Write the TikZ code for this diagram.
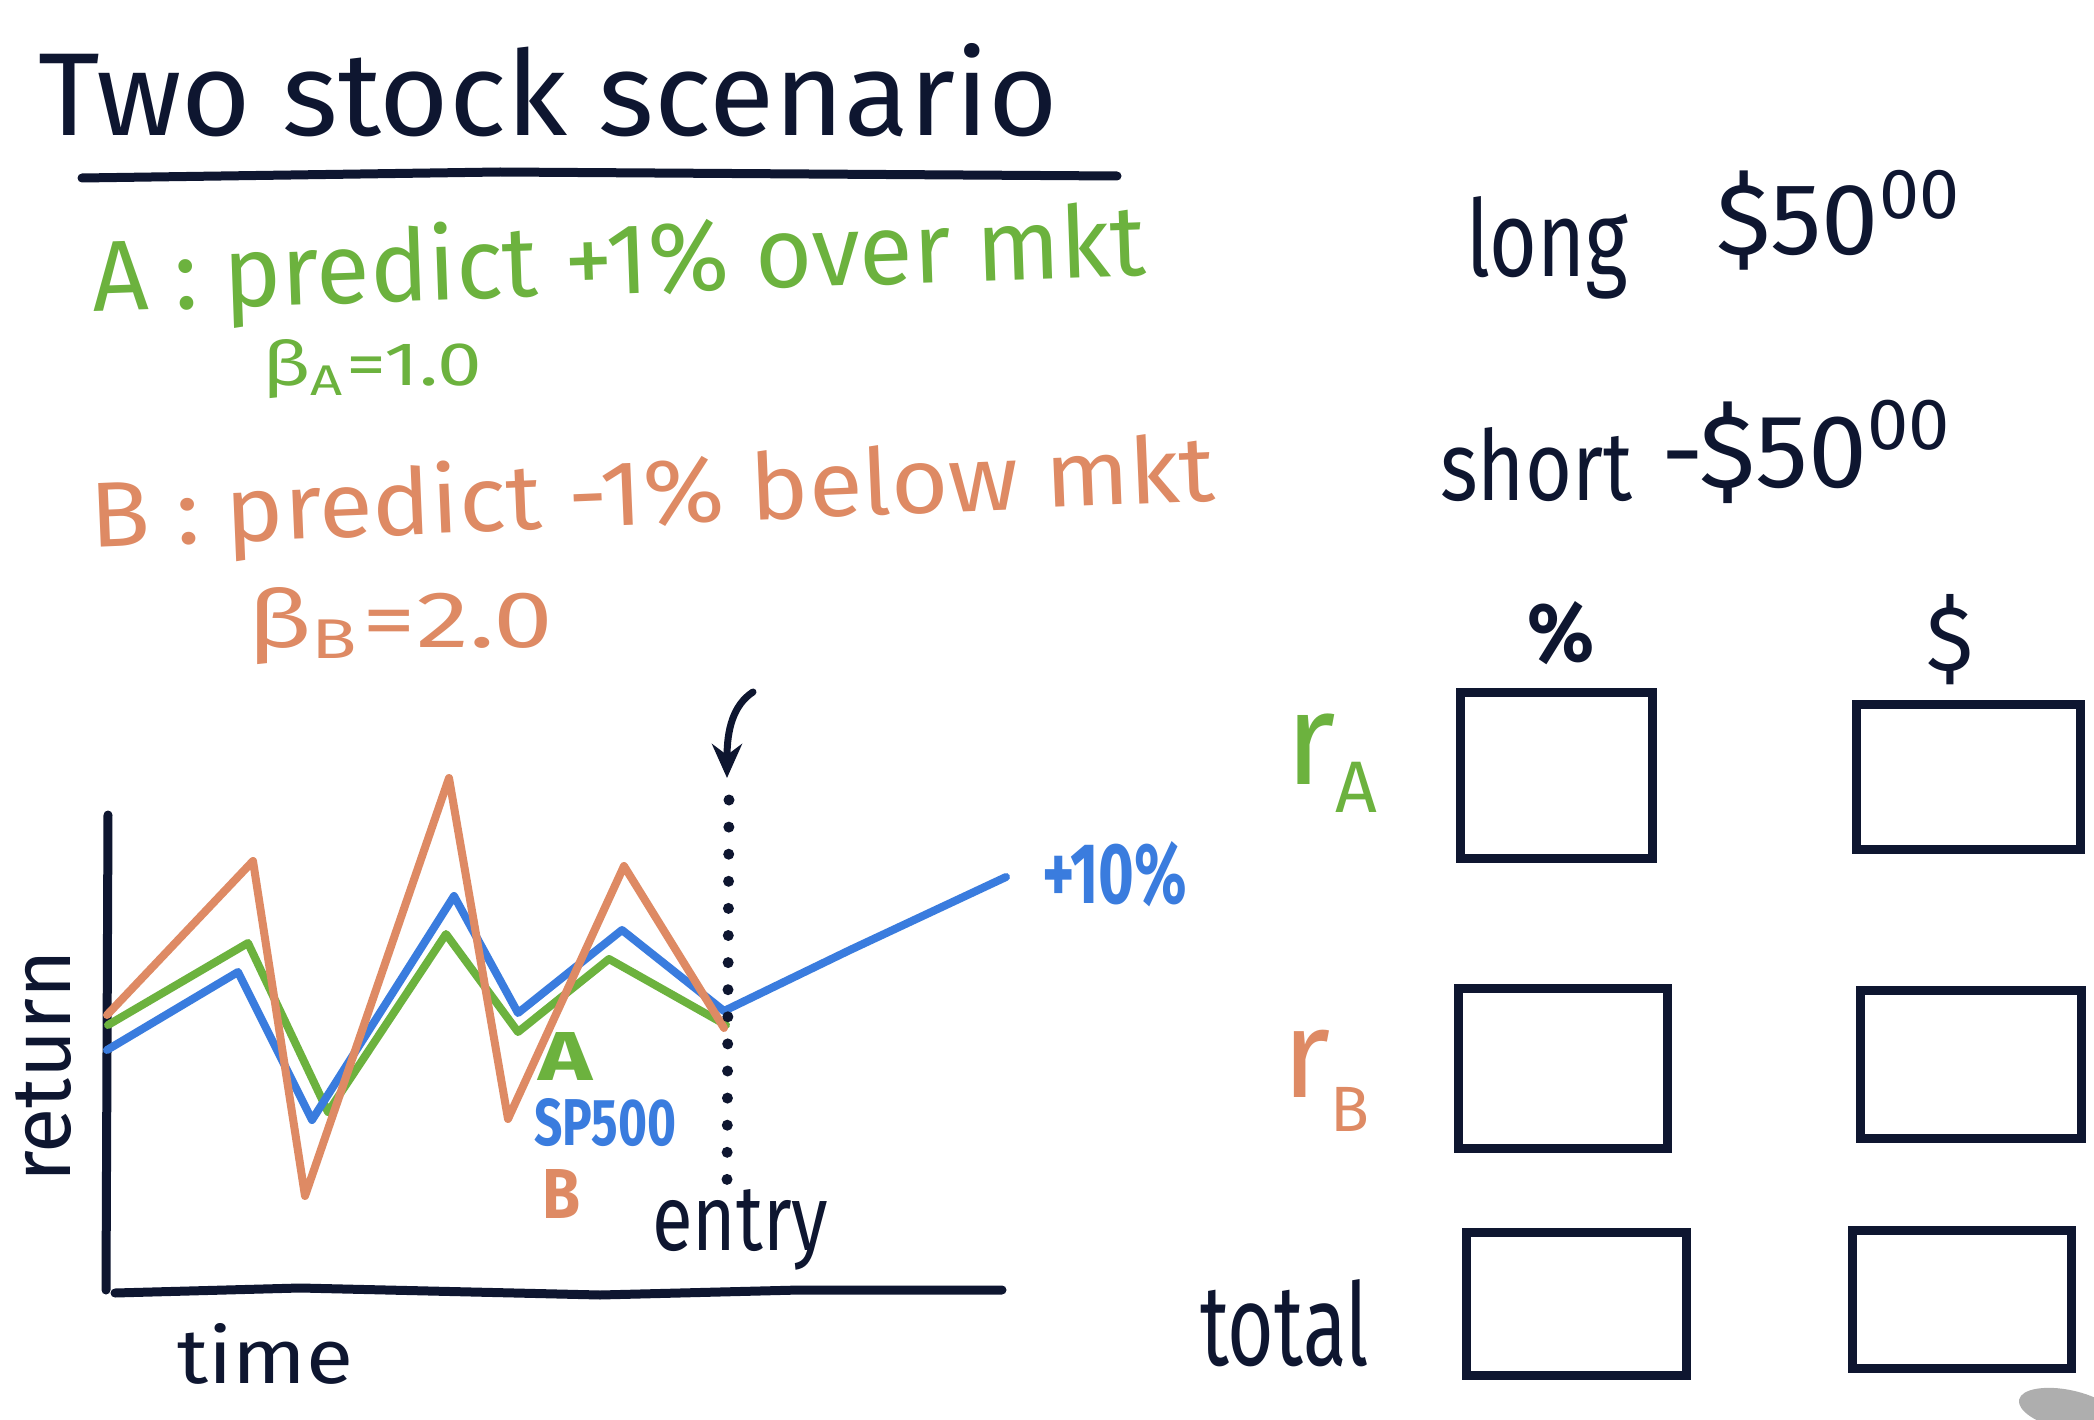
\documentclass[tikz,border=0pt]{standalone}
\usepackage{fontspec}
\setmainfont{Fira Sans}
\usetikzlibrary{arrows.meta}
\definecolor{ink}{RGB}{14,22,48}
\definecolor{grn}{RGB}{108,178,62}
\definecolor{org}{RGB}{222,138,100}
\definecolor{blu}{RGB}{58,124,222}
\newcommand\fitt[3]{\resizebox{#1pt}{#2pt}{#3}}
\begin{document}
\begin{tikzpicture}[x=1pt,y=-1pt,
  txt/.style={inner sep=0pt, anchor=base west},
  inkline/.style={draw=ink, line width=9pt, line cap=round, line join=round},
  chart/.style={line width=8pt, line cap=round, line join=round},
  ansbox/.style={draw=ink, line width=9pt, rectangle, inner sep=0pt}]
\useasboundingbox (0,0) rectangle (2094,1420);
\fill[white] (0,0) rectangle (2094,1420);

% title
\node[txt, text=ink] (title) at (38,136) {\fitt{1020}{92}{Two stock scenario}};
\draw[inkline] (82,178) -- (500,172) -- (1117,176);

% stock descriptions
\node[txt, text=grn, rotate=2] (lineA) at (93,312) {\fitt{1054}{78}{A : predict +1\% over mkt}};
\node[txt, text=grn] (betaA) at (262,386) {\fitt{220}{46}{β\textsubscript{A}=1.0}};
\node[txt, text=org, rotate=2.4] (lineB) at (91,548) {\fitt{1125}{72}{B : predict -1\% below mkt}};
\node[txt, text=org] (betaB) at (247,647) {\fitt{306}{60}{β\textsubscript{B}=2.0}};

% long / short
\node[txt, text=ink] (long) at (1466,277) {\fitt{162}{80}{long}};
\node[txt, text=ink] (longamt) at (1716,255) {\fitt{248}{85}{\$50\textsuperscript{00}}};
\node[txt, text=ink] (short) at (1440,500) {\fitt{192}{73}{short}};
\node[txt, text=ink] (shortamt) at (1661,487) {\fitt{294}{87}{-\$50\textsuperscript{00}}};

% table
\node[txt, text=ink] (pct) at (1527,661) {\fitt{67}{60}{\bfseries\%}};
\node[txt, text=ink] (dol) at (1926,670) {\fitt{47}{76}{\$}};
\node[txt, text=grn] (rA) at (1285,784) {\fontsize{131}{131}\selectfont r\raisebox{-28pt}{\fontsize{73}{73}\selectfont A}};
\node[txt, text=org] (rB) at (1282,1097) {\fontsize{125}{125}\selectfont r\raisebox{-34pt}{\fontsize{64}{64}\selectfont B}};
\node[txt, text=ink] (total) at (1200,1365) {\fitt{169}{86}{total}};

\node[ansbox, minimum width=192pt, minimum height=166pt] (Ap) at (1556,775) {};
\node[ansbox, minimum width=224pt, minimum height=145pt] (Ad) at (1968,777) {};
\node[ansbox, minimum width=209pt, minimum height=160pt] (Bp) at (1563,1068) {};
\node[ansbox, minimum width=221pt, minimum height=148pt] (Bd) at (1971,1064) {};
\node[ansbox, minimum width=220pt, minimum height=143pt] (Tp) at (1576,1304) {};
\node[ansbox, minimum width=219pt, minimum height=138pt] (Td) at (1962,1299) {};

% chart axes
\draw[inkline] (108,815) -- (106,1290);
\draw[inkline] (115,1293) -- (300,1288) -- (600,1295) -- (800,1290) -- (1002,1290);
\node[txt, text=ink, rotate=90] (ret) at (70,1183) {\fitt{233}{55}{return}};
\node[txt, text=ink] (time) at (177,1383) {\fitt{176}{60}{time}};

% chart lines
\draw[chart, grn] (108,1025) -- (248,943) -- (328,1112) -- (446,934) -- (518,1032) -- (609,959) -- (726,1025);
\draw[chart, blu] (107,1050) -- (238,972) -- (312,1120) -- (454,896) -- (518,1013) -- (622,930) -- (724,1011) -- (850,950) -- (1006,877);
\draw[chart, org] (107,1015) -- (253,861) -- (305,1196) -- (449,778) -- (508,1119) -- (624,866) -- (724,1028);

\node[txt, text=grn] (labA) at (538,1080) {\fitt{54}{48}{\bfseries A}};
\node[txt, text=blu] (labS) at (534,1145) {\fitt{142}{47}{\bfseries SP500}};
\node[txt, text=org] (labB) at (542,1218) {\fitt{38}{49}{\bfseries B}};
\node[txt, text=blu] (ten) at (1042,903) {\fitt{145}{62}{\bfseries +10\%}};

% entry marker
\coordinate (dTop) at (729,800);
\coordinate (dBot) at (727,1180);
\draw[ink, line width=11pt, line cap=round, dash pattern=on 0pt off 27.1pt] (dTop) -- (dBot);
\coordinate (arrS) at (753,692);
\coordinate (arrE) at (727,778);
\draw[ink, line width=7pt, line cap=round, -{Stealth[length=34pt,width=30pt]}] (arrS) .. controls (733,705) and (727,730) .. (arrE);
\node[txt, text=ink] (entry) at (652,1250) {\fitt{176}{61}{entry}};

% pen shadow in the corner
\fill[black!45, opacity=0.7] (2068,1410) ellipse [x radius=50pt, y radius=20pt, rotate=-12];
\end{tikzpicture}
\end{document}
